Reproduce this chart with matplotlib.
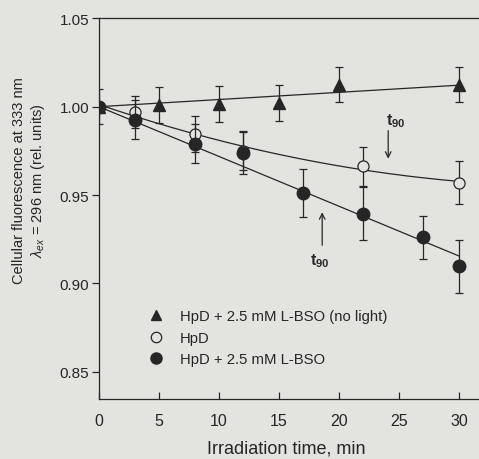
import numpy as np
import matplotlib
matplotlib.use('Agg')
from matplotlib import pyplot as plt
from matplotlib.lines import Line2D

plt.rcParams['font.family'] = ['Liberation Sans', 'DejaVu Sans']
plt.rcParams['mathtext.fontset'] = 'custom'
plt.rcParams['mathtext.rm'] = 'Liberation Sans'
plt.rcParams['mathtext.it'] = 'Liberation Sans:italic'
plt.rcParams['mathtext.bf'] = 'Liberation Sans:bold'

# HpD + 2.5 mM L-BSO (no light)
t_dark = [0, 5, 10, 15, 20, 30]
f_dark = [1.000, 1.001, 1.0015, 1.002, 1.0124, 1.0124]
e_dark = [0.010, 0.010, 0.010, 0.010, 0.010, 0.010]

# HpD
t_hpd = [0, 3, 8, 12, 22, 30]
f_hpd = [1.000, 0.997, 0.9845, 0.975, 0.9663, 0.957]
e_hpd = [0.0, 0.009, 0.010, 0.011, 0.011, 0.012]

# HpD + 2.5 mM L-BSO
t_bso = [0, 3, 8, 12, 17, 22, 27, 30]
f_bso = [1.000, 0.9927, 0.979, 0.9738, 0.951, 0.9394, 0.926, 0.9096]
e_bso = [0.0, 0.011, 0.011, 0.012, 0.0135, 0.015, 0.012, 0.015]

labels = ['HpD + 2.5 mM L-BSO (no light)', 'HpD', 'HpD + 2.5 mM L-BSO']
xticks = [0, 5, 10, 15, 20, 25, 30]
yticks = [0.85, 0.90, 0.95, 1.00, 1.05]

bg = '#e3e3e0'
ink = '#262626'


def fit_through_one(t, f):
    # least squares line forced through (0, 1)
    t = np.asarray(t, float)
    f = np.asarray(f, float)
    k = np.sum(t * (f - 1)) / np.sum(t ** 2)
    return k


fig = plt.figure(figsize=(4.79, 4.6), dpi=100, facecolor=bg)
W, H = 479, 460
ax = fig.add_axes([99 / W, 60 / H, 384 / W, 381.5 / H], facecolor=bg)

tt = np.linspace(0, 30, 200)
k_dark = fit_through_one(t_dark, f_dark)
k_bso = fit_through_one(t_bso, f_bso)
p_hpd = np.polyfit(t_hpd, f_hpd, 2)
ax.plot(tt, 1 + k_dark * tt, color=ink, lw=0.9, zorder=2)
ax.plot(tt, np.polyval(p_hpd, tt), color=ink, lw=0.9, zorder=2)
ax.plot(tt, 1 + k_bso * tt, color=ink, lw=0.9, zorder=2)

ebkw = dict(ecolor=ink, elinewidth=0.9, capsize=3.2, capthick=0.9, ls='none')
ax.errorbar(t_dark, f_dark, yerr=e_dark, marker='^', ms=8, mfc=ink, mec=ink, zorder=3, **ebkw)
ax.errorbar(t_hpd, f_hpd, yerr=e_hpd, marker='o', ms=8, mfc=bg, mec=ink, mew=0.9, zorder=4, **ebkw)
ax.errorbar(t_bso, f_bso, yerr=e_bso, marker='o', ms=9, mfc=ink, mec=ink, zorder=5, **ebkw)

# t90 marks
ax.annotate('', xy=(24.1, 0.969), xytext=(24.1, 0.988),
            arrowprops=dict(arrowstyle='->', color=ink, lw=0.9))
ax.text(23.9, 0.9925, r'$\mathbf{t_{90}}$', fontsize=11.5, color=ink, ha='left', va='center')
ax.annotate('', xy=(18.6, 0.9418), xytext=(18.6, 0.920),
            arrowprops=dict(arrowstyle='->', color=ink, lw=0.9))
ax.text(17.6, 0.913, r'$\mathbf{t_{90}}$', fontsize=11.5, color=ink, ha='left', va='center')

ax.set_xlim(0, 32)
ax.set_ylim(0.8345, 1.0505)
ax.set_xticks(xticks)
ax.set_xticklabels([str(x) for x in xticks])
ax.set_yticks(yticks)
ax.set_yticklabels(['%.2f' % y for y in yticks])
ax.tick_params(axis='x', direction='in', length=5, width=0.9, pad=10, labelsize=11.5, colors=ink)
ax.tick_params(axis='y', direction='out', length=5, width=0.9, pad=2, labelsize=11, colors=ink)
for s in ['left', 'bottom', 'top']:
    ax.spines[s].set_color(ink)
    ax.spines[s].set_linewidth(0.9)
ax.spines['right'].set_visible(False)

ax.set_xlabel('Irradiation time, min', fontsize=13, color=ink)
ax.xaxis.set_label_coords(0.487, -0.105)
ax.set_ylabel('Cellular fluorescence at 333 nm\n$\\lambda_{ex}$ = 296 nm (rel. units)',
              fontsize=10.5, color=ink, linespacing=1.25)
ax.yaxis.set_label_coords(-0.135, 0.575)

handles = [
    Line2D([], [], ls='none', marker='^', ms=7.5, mfc=ink, mec=ink),
    Line2D([], [], ls='none', marker='o', ms=7.5, mfc=bg, mec=ink, mew=0.9),
    Line2D([], [], ls='none', marker='o', ms=8, mfc=ink, mec=ink),
]
leg = ax.legend(handles, labels, loc='upper left', frameon=False, fontsize=10.7,
                handlelength=1.0, handletextpad=1.1, labelspacing=0.5, borderpad=0,
                borderaxespad=0, bbox_to_anchor=(148.6 / W, 1 - 310.5 / H),
                bbox_transform=fig.transFigure)
for txt in leg.get_texts():
    txt.set_color(ink)

fig.savefig('out.png', dpi=100, facecolor=bg)
